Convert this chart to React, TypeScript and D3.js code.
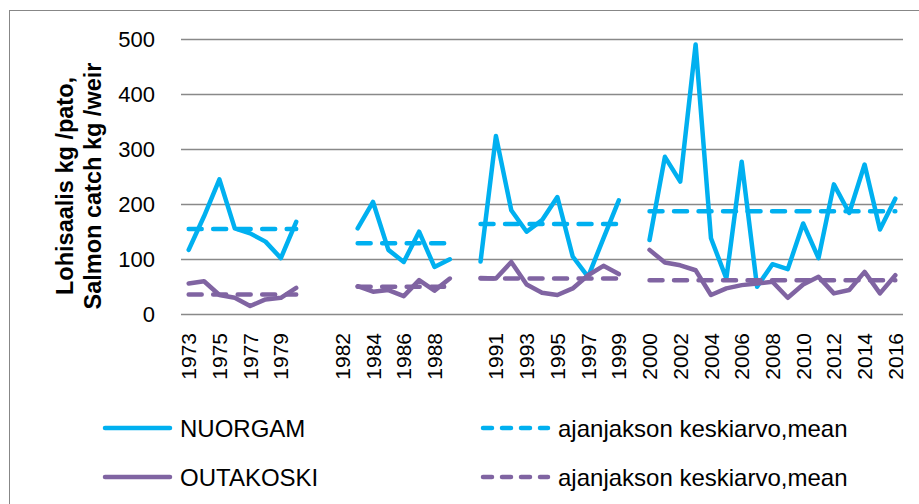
import React, { useEffect, useRef } from 'react';
import * as d3 from 'd3';

// categories (blank slots separate the periods)
const years = [
  '1973', '1974', '1975', '1976', '1977', '1978', '1979', '1980', '',
  '1981', '1982', '1983', '1984', '1985', '1986', '1987', '1988', '1989', '',
  '1990', '1991', '1992', '1993', '1994', '1995', '1996', '1997', '1998', '1999', '',
  '2000', '2001', '2002', '2003', '2004', '2005', '2006', '2007', '2008',
  '2009', '2010', '2011', '2012', '2013', '2014', '2015', '2016',
];

type V = number | null;
const _ = null;

const nuorgam: V[] = [
  117, 178, 245, 156, 147, 132, 102, 168, _,
  _, _, 156, 204, 117, 95, 150, 86, 100, _,
  96, 324, 189, 150, 171, 213, 105, 68, 138, 207, _,
  135, 286, 241, 490, 138, 65, 277, 50, 91, 82, 165, 102, 236, 184, 272, 154, 210,
];
const nuorgamMean: V[] = [
  155, 155, 155, 155, 155, 155, 155, 155, _,
  _, _, 129, 129, 129, 129, 129, 129, 129, _,
  164, 164, 164, 164, 164, 164, 164, 164, 164, 164, _,
  187, 187, 187, 187, 187, 187, 187, 187, 187, 187, 187, 187, 187, 187, 187, 187, 187,
];
const outakoski: V[] = [
  56, 60, 35, 30, 15, 27, 30, 48, _,
  _, _, 51, 41, 44, 33, 62, 43, 65, _,
  66, 65, 95, 54, 39, 35, 47, 71, 88, 73, _,
  117, 94, 89, 80, 35, 47, 53, 56, 59, 30, 54, 68, 38, 44, 77, 38, 71,
];
const outakoskiMean: V[] = [
  36, 36, 36, 36, 36, 36, 36, 36, _,
  _, _, 50, 50, 50, 50, 50, 50, 50, _,
  65, 65, 65, 65, 65, 65, 65, 65, 65, 65, _,
  62, 62, 62, 62, 62, 62, 62, 62, 62, 62, 62, 62, 62, 62, 62, 62, 62,
];
const yTicks = [0, 100, 200, 300, 400, 500];

const series = [
  { name: 'NUORGAM', values: nuorgam, color: '#00B0F0', dashed: false },
  { name: 'ajanjakson keskiarvo,mean', values: nuorgamMean, color: '#00B0F0', dashed: true },
  { name: 'OUTAKOSKI', values: outakoski, color: '#8064A2', dashed: false },
  { name: 'ajanjakson keskiarvo,mean', values: outakoskiMean, color: '#8064A2', dashed: true },
];

const W = 919;
const H = 504;
const FONT = '"Liberation Sans", Arial, sans-serif';

export default function App() {
  const svgRef = useRef<SVGSVGElement>(null);

  useEffect(() => {
    const svg = d3.select(svgRef.current);
    svg.selectAll('*').remove();

    const plot = { left: 181, right: 903, top: 39, bottom: 314.3 };

    const x = d3
      .scaleBand<number>()
      .domain(years.map((_d, i) => i))
      .range([plot.left, plot.right])
      .padding(0);
    const y = d3.scaleLinear().domain([0, 500]).range([plot.bottom, plot.top]);
    const cx = (i: number) => (x(i) as number) + x.bandwidth() / 2;

    // outer frame
    svg
      .append('rect')
      .attr('x', 9.5)
      .attr('y', 10.5)
      .attr('width', 930)
      .attr('height', 520)
      .attr('fill', 'none')
      .attr('stroke', '#878787')
      .attr('stroke-width', 1);

    // gridlines
    svg
      .append('g')
      .selectAll('line')
      .data(yTicks)
      .join('line')
      .attr('x1', plot.left)
      .attr('x2', plot.right)
      .attr('y1', (d) => Math.round(y(d)) + 0.5)
      .attr('y2', (d) => Math.round(y(d)) + 0.5)
      .attr('stroke', '#898989')
      .attr('stroke-width', 1.3);

    // y tick labels
    svg
      .append('g')
      .selectAll('text')
      .data(yTicks)
      .join('text')
      .attr('x', 155)
      .attr('y', (d) => y(d))
      .attr('dy', '0.36em')
      .attr('text-anchor', 'end')
      .attr('font-family', FONT)
      .attr('font-size', 22)
      .attr('fill', '#000')
      .text((d) => d);

    // x labels, every other category
    svg
      .append('g')
      .selectAll('text')
      .data(years.map((t, i) => ({ t, i })).filter((d) => d.i % 2 === 0))
      .join('text')
      .attr('transform', (d) => `translate(${cx(d.i)},333) rotate(-90)`)
      .attr('dy', '0.36em')
      .attr('text-anchor', 'end')
      .attr('font-family', FONT)
      .attr('font-size', 21)
      .attr('fill', '#000')
      .text((d) => d.t);

    // y axis title
    const title = svg
      .append('text')
      .attr('transform', 'translate(0,186) rotate(-90)')
      .attr('text-anchor', 'middle')
      .attr('font-family', FONT)
      .attr('font-weight', 'bold')
      .attr('font-size', 23.5)
      .attr('fill', '#000');
    title.append('tspan').attr('x', 0).attr('y', 73).text('Lohisaalis kg /pato,');
    title.append('tspan').attr('x', 0).attr('y', 101).text('Salmon catch kg /weir');

    // lines
    const line = d3
      .line<V>()
      .defined((d) => d !== null)
      .x((_d, i) => cx(i))
      .y((d) => y(d as number));

    series.forEach((s) => {
      svg
        .append('path')
        .datum(s.values)
        .attr('fill', 'none')
        .attr('stroke', s.color)
        .attr('stroke-width', 4.5)
        .attr('stroke-linejoin', 'round')
        .attr('stroke-linecap', 'round')
        .attr('stroke-dasharray', s.dashed ? '13 11.5' : null)
        .attr('d', line);
    });

    // legend
    const legendPos = [
      { x: 105, y: 428 },
      { x: 483, y: 428 },
      { x: 105, y: 477 },
      { x: 483, y: 477 },
    ];
    series.forEach((s, i) => {
      const p = legendPos[i];
      svg
        .append('line')
        .attr('x1', p.x)
        .attr('x2', p.x + 65)
        .attr('y1', p.y)
        .attr('y2', p.y)
        .attr('stroke', s.color)
        .attr('stroke-width', 4.5)
        .attr('stroke-linecap', 'round')
        .attr('stroke-dasharray', s.dashed ? '9 10' : null);
      svg
        .append('text')
        .attr('x', p.x + 75)
        .attr('y', p.y)
        .attr('dy', '0.36em')
        .attr('font-family', FONT)
        .attr('font-size', 24)
        .attr('fill', '#000')
        .text(s.name);
    });
  }, []);

  return <svg ref={svgRef} width={W} height={H} style={{ display: 'block', position: 'absolute', left: 0, top: 0 }} />;
}
